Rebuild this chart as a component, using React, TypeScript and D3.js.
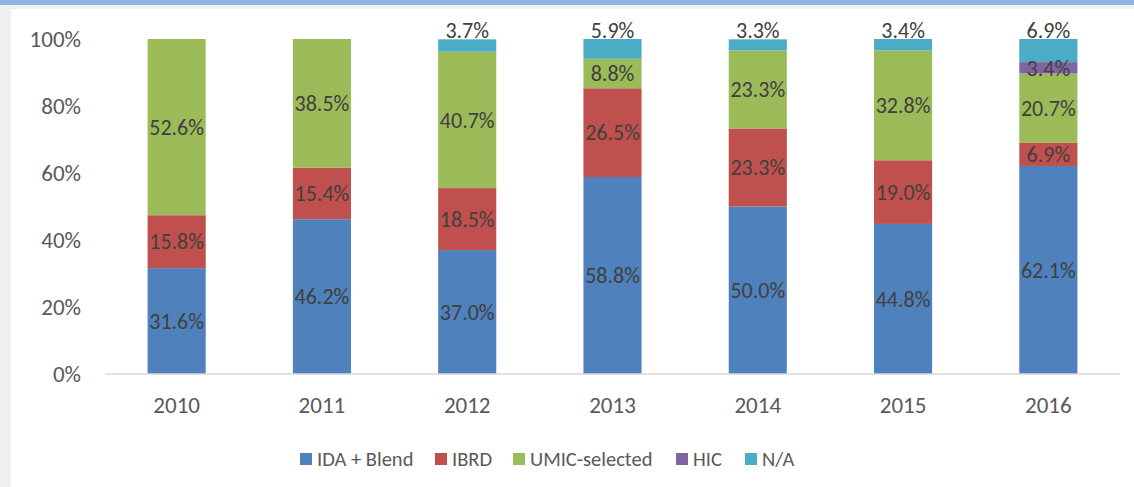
import React from 'react';
import { scaleBand, scaleLinear, stack } from 'd3';

const years = ["2010", "2011", "2012", "2013", "2014", "2015", "2016"];
const seriesNames = ["IDA + Blend", "IBRD", "UMIC-selected", "HIC", "N/A"];
const seriesColors = ["#4f81bd", "#c0504d", "#9bbb59", "#8064a2", "#4bacc6"];

const idaBlend = [31.6, 46.2, 37.0, 58.8, 50.0, 44.8, 62.1];
const ibrd = [15.8, 15.4, 18.5, 26.5, 23.3, 19.0, 6.9];
const umic = [52.6, 38.5, 40.7, 8.8, 23.3, 32.8, 20.7];
const hic = [0, 0, 0, 0, 0, 0, 3.4];
const na = [0, 0, 3.7, 5.9, 3.3, 3.4, 6.9];

const yTicks = [0, 20, 40, 60, 80, 100];

const W = 1134;
const H = 487;
const FONT = "Carlito, 'Open Sans', sans-serif";

const App = () => {
  const values = [idaBlend, ibrd, umic, hic, na];
  const rows = years.map((y, i) => {
    const r: any = { year: y };
    seriesNames.forEach((s, k) => { r[s] = values[k][i]; });
    return r;
  });
  const layers = stack().keys(seriesNames)(rows);

  const x = scaleBand().domain(years).range([104, 1121]).paddingInner(0.6).paddingOuter(0.3);
  const y = scaleLinear().domain([0, 100]).range([374, 39]);

  const legendX = [300, 435, 513, 676, 745];

  return (
    <svg width={W} height={H} style={{ position: 'fixed', left: 0, top: 0 }} fontFamily={FONT}>
      <rect x={0} y={0} width={W} height={H} fill="#f0f0f0" />
      <rect x={0} y={0} width={W} height={5} fill="#8db3e2" />
      <rect x={11} y={9} width={W - 11} height={H - 9} fill="#ffffff" />

      {yTicks.map((t) => (
        <text key={t} x={81} y={y(t)} dy="0.35em" textAnchor="end" fontSize={23} fill="#595959">
          {t}%
        </text>
      ))}

      {layers.map((layer, k) => (
        <g key={layer.key} fill={seriesColors[k]}>
          {layer.map((d, i) => {
            const v = d[1] - d[0];
            if (v <= 0) return null;
            return (
              <rect key={i} x={x(years[i])} y={y(Math.min(d[1], 100))}
                width={x.bandwidth()} height={y(d[0]) - y(Math.min(d[1], 100))} />
            );
          })}
        </g>
      ))}

      <line x1={105} x2={1120} y1={y(0)} y2={y(0)} stroke="#d9d9d9" strokeWidth={1.5} />

      {layers.map((layer, k) => (
        <g key={'l' + layer.key}>
          {layer.map((d, i) => {
            const v = d[1] - d[0];
            if (v <= 0) return null;
            const cx = (x(years[i]) as number) + x.bandwidth() / 2;
            const isTop = seriesNames[k] === "N/A";
            const ly = isTop ? y(100) - 1 : y((d[0] + Math.min(d[1], 100)) / 2);
            return (
              <text key={i} x={cx} y={ly} dy={isTop ? 0 : "0.35em"} textAnchor="middle"
                fontSize={22} fill="#404040">
                {values[k][i].toFixed(1)}%
              </text>
            );
          })}
        </g>
      ))}

      {years.map((yr) => (
        <text key={yr} x={(x(yr) as number) + x.bandwidth() / 2} y={405} dy="0.35em"
          textAnchor="middle" fontSize={23} fill="#595959">
          {yr}
        </text>
      ))}

      {seriesNames.map((s, k) => (
        <g key={'lg' + s} transform={`translate(${legendX[k]},453)`}>
          <rect x={0} y={0} width={12} height={12} fill={seriesColors[k]} />
          <text x={17} y={6} dy="0.35em" fontSize={20.5} fill="#595959">{s}</text>
        </g>
      ))}
    </svg>
  );
};

export default App;
